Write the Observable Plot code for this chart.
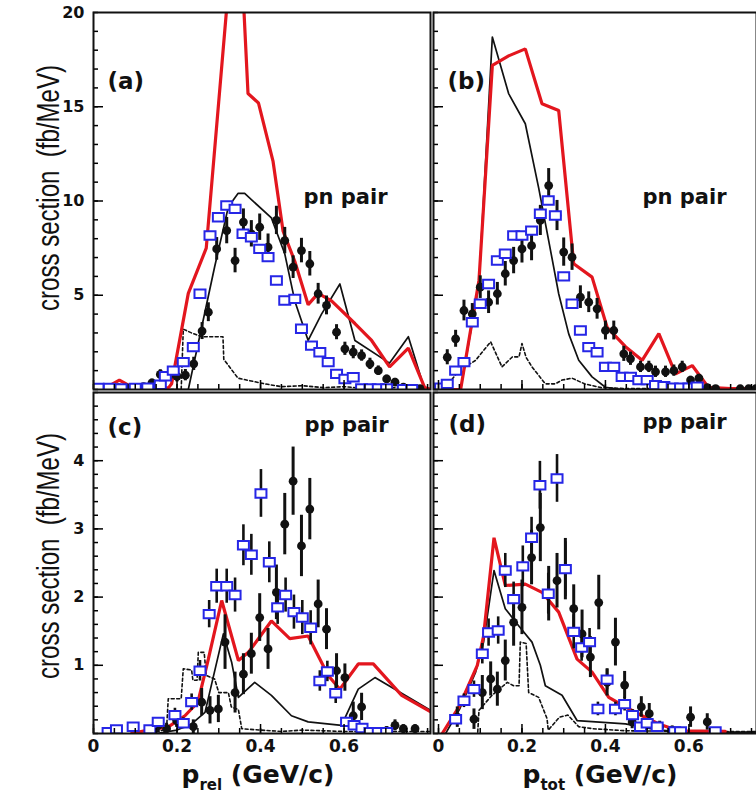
<!DOCTYPE html>
<html>
<head>
<meta charset="utf-8">
<script src="https://cdn.jsdelivr.net/npm/d3@7"></script>
<script src="https://cdn.jsdelivr.net/npm/@observablehq/plot@0.6"></script>
<style>
  body { margin: 0; background: #fff; }
  #fig { position: relative; width: 756px; height: 799px; overflow: hidden; background: #fff; }
  #fig .panel { position: absolute; }
  #fig svg { overflow: visible; }
</style>
</head>
<body>
<div id="fig"></div>
<script>
// ---------- (a) pn pair vs p_rel ----------
// measured points: [p, cross section, error]
const pnRelData = [
  [0.02,0.05,0.08],[0.04,0.1,0.1],[0.06,0.1,0.1],[0.08,0.08,0.1],[0.10,0.1,0.1],[0.12,0.15,0.15],
  [0.14,0.35,0.2],[0.16,0.8,0.25],[0.18,0.7,0.25],[0.20,0.7,0.3],[0.22,0.76,0.3],[0.24,1.36,0.35],
  [0.26,3.1,0.45],[0.275,4.1,0.5],[0.295,7.46,0.6],[0.319,8.43,0.7],[0.339,6.84,0.65],[0.359,8.88,0.7],
  [0.378,8.26,0.7],[0.398,8.61,0.7],[0.418,7.55,0.7],[0.438,8.97,0.75],[0.458,7.9,0.7],[0.478,6.49,0.6],
  [0.498,7.37,0.65],[0.518,6.67,0.65],[0.538,5.08,0.55],[0.558,4.46,0.5],[0.582,3.04,0.4],[0.602,2.16,0.35],
  [0.622,1.98,0.35],[0.642,1.8,0.3],[0.662,1.36,0.3],[0.682,1.0,0.25],[0.702,0.56,0.2],[0.722,0.39,0.2],
  [0.742,0.12,0.12],[0.762,0.05,0.08],[0.782,0.05,0.08]
];
// simulated events (open squares): [p, cross section, error]
const pnRelSim = [
  [0.011,0.08,0],[0.038,0.08,0],[0.066,0.05,0],[0.10,0.08,0],[0.13,0.1,0],[0.16,0.25,0],[0.172,0.7,0],
  [0.191,1.0,0],[0.215,1.45,0],[0.239,2.25,0],[0.255,5.08,0],[0.279,8.17,0],[0.299,9.14,0],[0.319,9.76,0],
  [0.339,9.58,0],[0.358,8.26,0],[0.378,8.08,0],[0.398,7.46,0],[0.418,7.02,0],[0.438,5.78,0],[0.458,4.72,0],
  [0.482,4.81,0],[0.498,3.22,0],[0.522,2.33,0],[0.542,1.98,0],[0.562,1.45,0],[0.582,0.83,0],[0.602,0.56,0],
  [0.622,0.65,0],[0.642,0.05,0],[0.662,0.05,0],[0.682,0.05,0],[0.702,0.05,0],[0.742,0.02,0],[0.762,0.02,0]
];
// model curves: [p, cross section]
const pnRelRed = [
  [0,0],[0.03,0.1],[0.062,0.5],[0.09,0.15],[0.12,0.1],[0.15,0.05],[0.18,0.1],[0.187,0.3],[0.227,5.1],
  [0.27,7.5],[0.345,27],[0.37,15.7],[0.395,15.2],[0.43,12.1],[0.454,8.4],[0.482,6.8],[0.514,4.5],
  [0.538,5.1],[0.57,4.7],[0.626,3.5],[0.666,2.6],[0.709,1.2],[0.754,2.2],[0.793,0.1],[0.81,0]
];
const pnRelBlack = [
  [0,0],[0.227,0],[0.29,6.5],[0.323,9.7],[0.346,10.4],[0.362,10.4],[0.426,9.1],[0.458,7.2],[0.482,4.7],
  [0.514,2.6],[0.546,4.0],[0.59,5.6],[0.626,2.6],[0.709,1.4],[0.754,2.8],[0.793,0],[0.81,0]
];
const pnRelDotted = [
  [0,0],[0.21,0],[0.215,3.2],[0.235,3.0],[0.259,2.8],[0.31,2.8],[0.312,1.6],[0.346,0.6],[0.41,0.3],
  [0.45,0.15],[0.5,0.2],[0.55,0.1],[0.6,0.15],[0.65,0.05],[0.7,0.1],[0.81,0.05]
];

// ---------- (b) pn pair vs p_tot ----------
const pnTotData = [
  [0.021,1.71,0.4],[0.041,2.69,0.45],[0.061,4.19,0.55],[0.081,4.01,0.55],[0.1,5.43,0.6],[0.12,4.63,0.6],
  [0.141,5.08,0.6],[0.16,6.14,0.65],[0.18,6.84,0.7],[0.2,7.46,0.75],[0.223,7.63,0.8],[0.244,8.97,0.8],
  [0.264,10.82,0.9],[0.284,9.23,0.8],[0.3,7.29,0.75],[0.32,7.02,0.7],[0.34,4.9,0.6],[0.36,4.63,0.55],
  [0.38,4.28,0.55],[0.4,3.13,0.5],[0.42,3.13,0.5],[0.444,1.89,0.4],[0.46,1.63,0.35],[0.484,1.2,0.3],
  [0.504,1.2,0.3],[0.52,0.94,0.3],[0.544,0.94,0.3],[0.564,1.0,0.3],[0.584,1.2,0.3],[0.604,0.5,0.2],
  [0.624,0.6,0.2],[0.644,0.1,0.1],[0.664,0.05,0.1],[0.723,0.04,0.08],[0.743,0.04,0.08],[0.76,0.04,0.08]
];
const pnTotSim = [
  [0.005,0.1,0],[0.021,0.3,0],[0.041,1.0,0],[0.061,1.45,0],[0.081,3.57,0],[0.1,4.55,0],[0.12,5.6,0],
  [0.141,6.84,0],[0.16,7.2,0],[0.18,8.17,0],[0.2,8.17,0],[0.223,8.43,0],[0.244,9.32,0],[0.263,10.03,0],
  [0.28,9.23,0],[0.3,6.0,0],[0.32,4.55,0],[0.34,3.13,0],[0.36,2.25,0],[0.38,1.98,0],[0.4,1.2,0],
  [0.42,1.2,0],[0.44,0.67,0],[0.46,0.67,0],[0.48,0.5,0],[0.5,0.5,0],[0.52,0.23,0],[0.54,0.18,0],
  [0.56,0.1,0],[0.58,0.1,0],[0.6,0.1,0],[0.62,0.15,0]
];
const pnTotRed = [
  [-0.012,0],[0.053,0],[0.097,5.8],[0.129,17.2],[0.168,17.7],[0.208,18.07],[0.248,15.16],[0.288,14.8],
  [0.324,6.67],[0.368,5.96],[0.404,3.3],[0.448,2.27],[0.488,1.55],[0.528,2.96],[0.568,0.83],[0.608,1.27],
  [0.647,0.11],[0.7,0.05],[0.77,0.05]
];
const pnTotBlack = [
  [-0.012,0],[0.053,0],[0.097,5.6],[0.129,18.7],[0.168,15.7],[0.208,14.1],[0.24,10.7],[0.264,7.9],
  [0.288,5.08],[0.312,2.95],[0.336,1.55],[0.368,0.67],[0.4,0.12],[0.44,0],[0.77,0]
];
const pnTotDotted = [
  [-0.012,0],[0.02,0.2],[0.049,1.0],[0.089,1.55],[0.125,2.53],[0.152,1.2],[0.177,1.73],[0.193,1.73],
  [0.2,2.44],[0.21,1.7],[0.224,1.2],[0.256,0.3],[0.28,0.3],[0.296,0.5],[0.32,0.6],[0.35,0.3],[0.39,0.1],
  [0.45,0.05],[0.77,0.03]
];

// ---------- (c) pp pair vs p_rel ----------
const ppRelData = [
  [0.155,0.12,0.1],[0.175,0.07,0.08],[0.199,0.19,0.1],[0.239,0.1,0.1],[0.259,0.46,0.2],[0.279,0.34,0.2],
  [0.299,0.36,0.2],[0.315,1.34,0.4],[0.339,0.6,0.3],[0.359,0.87,0.3],[0.378,1.17,0.3],[0.398,1.7,0.35],
  [0.418,1.24,0.3],[0.438,2.07,0.4],[0.458,3.07,0.45],[0.478,3.7,0.5],[0.498,2.75,0.45],[0.518,3.29,0.45],
  [0.538,1.9,0.35],[0.558,1.53,0.3],[0.582,0.92,0.25],[0.602,0.82,0.2],[0.622,0.26,0.2],[0.642,0.39,0.2],
  [0.662,0.02,0.05],[0.682,0.02,0.05],[0.702,0.04,0.06],[0.722,0.12,0.08],[0.742,0.07,0.06],[0.77,0.07,0.06]
];
const ppRelSim = [
  [0.035,0.02,0],[0.055,0.06,0],[0.095,0.1,0],[0.135,0.06,0],[0.155,0.17,0.06],[0.195,0.27,0.1],
  [0.215,0.15,0.08],[0.235,0.46,0.12],[0.255,0.92,0.15],[0.277,1.75,0.2],[0.295,2.16,0.25],[0.319,2.16,0.25],
  [0.339,2.03,0.25],[0.359,2.76,0.3],[0.378,2.62,0.3],[0.401,3.52,0.35],[0.421,2.51,0.3],[0.441,1.85,0.25],
  [0.46,2.03,0.25],[0.48,1.78,0.25],[0.5,1.7,0.25],[0.52,1.55,0.25],[0.542,0.77,0.15],[0.56,0.91,0.15],
  [0.58,0.59,0.15],[0.606,0.17,0.06],[0.624,0.12,0.05],[0.643,0.08,0.05],[0.662,0.02,0],[0.682,0.02,0],
  [0.702,0.02,0]
];
const ppRelRed = [
  [0.091,0],[0.131,0.05],[0.18,0.1],[0.219,0.26],[0.25,0.46],[0.275,1.09],[0.307,1.95],[0.347,1.07],
  [0.371,1.19],[0.426,1.65],[0.47,1.39],[0.514,1.43],[0.562,0.85],[0.59,0.65],[0.634,1.02],[0.67,1.02],
  [0.738,0.56],[0.81,0.31]
];
const ppRelBlack = [
  [0.15,0],[0.2,0.05],[0.235,0.14],[0.267,0.31],[0.311,1.46],[0.331,1.04],[0.347,0.53],[0.386,0.75],
  [0.426,0.56],[0.474,0.26],[0.514,0.17],[0.594,0.12],[0.634,0.65],[0.674,0.82],[0.746,0.56],[0.81,0.33]
];
const ppRelDotted = [
  [0.15,0.02],[0.175,0.07],[0.179,0.51],[0.21,0.51],[0.215,0.95],[0.235,0.93],[0.238,0.78],[0.248,0.78],
  [0.251,1.19],[0.265,1.19],[0.27,0.85],[0.29,0.8],[0.3,0.6],[0.323,0.6],[0.33,0.39],[0.347,0.35],
  [0.355,0.07],[0.4,0.05],[0.45,0.03],[0.5,0.05],[0.6,0.03],[0.7,0.03],[0.81,0.03]
];

// ---------- (d) pp pair vs p_tot ----------
const ppTotData = [
  [0.045,0.24,0.15],[0.085,0.21,0.15],[0.105,0.6,0.25],[0.125,0.8,0.25],[0.141,0.65,0.25],[0.16,1.07,0.3],
  [0.18,1.63,0.35],[0.2,1.85,0.4],[0.223,2.58,0.4],[0.244,3.02,0.5],[0.264,2.05,0.4],[0.284,2.24,0.4],
  [0.304,2.41,0.45],[0.324,1.83,0.35],[0.344,1.46,0.35],[0.364,1.12,0.3],[0.384,1.92,0.4],[0.404,0.75,0.2],
  [0.424,1.34,0.35],[0.446,0.71,0.2],[0.464,0.17,0.1],[0.486,0.39,0.15],[0.505,0.29,0.15],[0.53,0.1,0.08],
  [0.56,0.05,0.06],[0.604,0.24,0.15],[0.644,0.17,0.12]
];
const ppTotSim = [
  [0.041,0.21,0],[0.061,0.48,0.1],[0.085,0.65,0.12],[0.105,1.17,0.15],[0.12,1.48,0.2],[0.143,1.51,0.2],
  [0.16,2.39,0.25],[0.18,1.97,0.25],[0.202,2.45,0.3],[0.223,2.87,0.3],[0.243,3.64,0.35],[0.263,2.05,0.3],
  [0.284,3.74,0.35],[0.304,2.41,0.4],[0.324,1.49,0.25],[0.343,1.26,0.2],[0.362,1.34,0.2],[0.382,0.36,0.1],
  [0.404,0.79,0.15],[0.424,0.36,0.1],[0.446,0.43,0.1],[0.465,0.27,0.08],[0.484,0.1,0.05],[0.5,0.15,0.06],
  [0.524,0.1,0],[0.566,0.03,0],[0.58,0.03,0],[0.663,0.03,0]
];
const ppTotRed = [
  [0.009,0],[0.049,0.39],[0.093,1.0],[0.108,1.43],[0.133,2.87],[0.16,2.17],[0.208,2.19],[0.248,2.07],
  [0.288,1.78],[0.332,1.09],[0.368,0.9],[0.408,0.53],[0.448,0.39],[0.488,0.26],[0.528,0.14],[0.575,0.04],
  [0.687,0.03]
];
const ppTotBlack = [
  [0.017,0],[0.05,0.35],[0.089,0.9],[0.108,1.34],[0.133,2.39],[0.16,1.83],[0.192,1.58],[0.224,1.34],
  [0.244,1.0],[0.256,0.7],[0.296,0.56],[0.332,0.19],[0.448,0.14],[0.528,0.05],[0.6,0.02],[0.77,0.02]
];
const ppTotDotted = [
  [0.094,0.02],[0.097,0.34],[0.128,0.56],[0.165,0.75],[0.18,0.7],[0.193,0.7],[0.196,1.34],[0.21,1.32],
  [0.216,0.6],[0.24,0.53],[0.26,0.22],[0.263,0.05],[0.29,0.24],[0.31,0.27],[0.336,0.1],[0.37,0.07],
  [0.45,0.04],[0.6,0.03],[0.77,0.03]
];

// ---------- axis ticks ----------
const topMajorTicks = [5, 10, 15];
const topLabelTicks = [5, 10, 15, 20];
const bottomMajorTicks = [1, 2, 3, 4];
const bottomLabelTicks = [1, 2, 3, 4];
const momentumLabelTicks = [0, 0.2, 0.4, 0.6];

const RED = "#e3161e", BLUE = "#2626e6", INK = "#111";
const BOLD = "DejaVu Sans";

// open rectangle marker for simulated events
const openBox = {
  draw(context) {
    context.rect(-5.5, -4.2, 11, 8.4);
  }
};

const fx = d => d[0], fy = d => d[1];

function range(a, b, s) {
  const out = [];
  for (let v = a; v <= b + 1e-9; v += s) out.push(+v.toFixed(4));
  return out;
}

function panel(o) {
  const marks = [
    Plot.line(o.dotted, {x: fx, y: fy, stroke: INK, strokeWidth: 1.6, strokeDasharray: "3,2.5", clip: true}),
    Plot.line(o.black, {x: fx, y: fy, stroke: INK, strokeWidth: 1.7, clip: true}),
    Plot.line(o.red, {x: fx, y: fy, stroke: RED, strokeWidth: 3.2, strokeLinejoin: "miter", clip: true}),
    Plot.ruleX(o.data, {x: fx, y1: d => d[1] - d[2], y2: d => d[1] + d[2], stroke: INK, strokeWidth: 3, clip: true}),
    Plot.ruleX(o.sim.filter(d => d[2] > 0), {x: fx, y1: d => d[1] - d[2], y2: d => d[1] + d[2], stroke: INK, strokeWidth: 2.6, clip: true}),
    Plot.dot(o.data, {x: fx, y: fy, r: 4.4, fill: INK, clip: true}),
    Plot.dot(o.sim, {x: fx, y: fy, symbol: openBox, stroke: BLUE, strokeWidth: 2, fill: "white", clip: true}),
    Plot.axisY(o.yMinor, {tickSize: -5, tickFormat: () => "", label: null, strokeWidth: 1.5}),
    Plot.axisY(o.yMajor, {tickSize: -10, tickFormat: () => "", label: null, strokeWidth: 1.5}),
    Plot.axisX(o.xMinor, {tickSize: -5, tickFormat: () => "", label: null, strokeWidth: 1.5}),
    Plot.axisX(momentumLabelTicks, {tickSize: -9, tickFormat: () => "", label: null, strokeWidth: 1.5}),
    Plot.frame({stroke: INK, strokeWidth: 2}),
    Plot.text([o.tag], {frameAnchor: "top-left", dx: o.tagDx, dy: o.tagDy, fontSize: 23, fontWeight: "bold", fontFamily: BOLD, fill: INK}),
    Plot.text([o.pair], {frameAnchor: "top-left", dx: o.pairDx, dy: o.pairDy, fontSize: 21, fontWeight: "bold", fontFamily: BOLD, fill: INK})
  ];
  if (o.yLabels) marks.push(Plot.axisY(o.yLabels, {tickSize: 0, tickPadding: 9, label: null, fontSize: 16, fontWeight: "bold", fontFamily: BOLD, fill: INK, tickFormat: d => String(d)}));
  if (o.xLabels) marks.push(Plot.axisX(o.xLabels, {tickSize: 0, tickPadding: 6, label: null, fontSize: 17, fontWeight: "bold", fontFamily: BOLD, fill: INK, tickFormat: d => d === 0 ? "0" : d.toFixed(1)}));

  const svg = Plot.plot({
    width: o.width, height: o.height,
    marginLeft: o.mL, marginRight: 0, marginTop: o.mT, marginBottom: o.mB,
    x: {domain: o.xDomain},
    y: {domain: o.yDomain},
    style: {background: "transparent", overflow: "visible"},
    marks
  });
  const holder = document.createElement("div");
  holder.className = "panel";
  holder.style.left = o.left + "px";
  holder.style.top = o.top + "px";
  holder.style.width = o.width + "px";
  holder.appendChild(svg);
  document.getElementById("fig").appendChild(holder);
}

const topMinor = range(0, 20, 1);
const bottomMinor = range(0, 5, 0.2);
const relMinor = range(0, 0.8, 0.05);
const totMinor = range(0, 0.75, 0.05);

panel({left: 0, top: 0, width: 430, height: 392, mL: 93, mT: 12, mB: 3,
  xDomain: [0, 0.807], yDomain: [0, 20], yMinor: topMinor, yMajor: topMajorTicks, xMinor: relMinor,
  yLabels: topLabelTicks, data: pnRelData, sim: pnRelSim, red: pnRelRed, black: pnRelBlack, dotted: pnRelDotted,
  tag: "(a)", tagDx: 14, tagDy: 60, pair: "pn pair", pairDx: 210, pairDy: 177});

panel({left: 433, top: 0, width: 323, height: 392, mL: 0, mT: 12, mB: 3,
  xDomain: [-0.012, 0.762], yDomain: [0, 20], yMinor: topMinor, yMajor: topMajorTicks, xMinor: totMinor,
  data: pnTotData, sim: pnTotSim, red: pnTotRed, black: pnTotBlack, dotted: pnTotDotted,
  tag: "(b)", tagDx: 14, tagDy: 60, pair: "pn pair", pairDx: 209, pairDy: 177});

panel({left: 0, top: 392, width: 430, height: 407, mL: 93, mT: 0, mB: 66,
  xDomain: [0, 0.807], yDomain: [0, 5], yMinor: bottomMinor, yMajor: bottomMajorTicks, xMinor: relMinor,
  yLabels: bottomLabelTicks, xLabels: momentumLabelTicks,
  data: ppRelData, sim: ppRelSim, red: ppRelRed, black: ppRelBlack, dotted: ppRelDotted,
  tag: "(c)", tagDx: 14, tagDy: 26, pair: "pp pair", pairDx: 211, pairDy: 25});

panel({left: 433, top: 392, width: 323, height: 407, mL: 0, mT: 0, mB: 66,
  xDomain: [-0.012, 0.762], yDomain: [0, 5], yMinor: bottomMinor, yMajor: bottomMajorTicks, xMinor: totMinor,
  xLabels: momentumLabelTicks,
  data: ppTotData, sim: ppTotSim, red: ppTotRed, black: ppTotBlack, dotted: ppTotDotted,
  tag: "(d)", tagDx: 15, tagDy: 23, pair: "pp pair", pairDx: 209, pairDy: 22});

// axis titles
const titles = d3.create("svg")
  .attr("width", 756).attr("height", 799)
  .style("position", "absolute").style("left", "0px").style("top", "0px")
  .style("pointer-events", "none");

function yTitle(cy) {
  titles.append("text")
    .attr("transform", `translate(59,${cy}) rotate(-90) scale(0.86,1.12)`)
    .attr("text-anchor", "middle")
    .attr("font-family", "Liberation Sans, Arial, sans-serif")
    .attr("font-size", 28)
    .attr("fill", INK)
    .style("white-space", "pre")
    .text("cross section  (fb/MeV)");
}
yTitle(188);
yTitle(556);

function xTitle(cx, sub) {
  const t = titles.append("text")
    .attr("x", cx).attr("y", 783)
    .attr("text-anchor", "middle")
    .attr("font-family", BOLD).attr("font-weight", "bold")
    .attr("font-size", 25).attr("fill", INK)
    .style("white-space", "pre");
  t.append("tspan").text("p");
  t.append("tspan").attr("font-size", 15).attr("dy", 7).text(sub);
  t.append("tspan").attr("dy", -7).text(" (GeV/c)");
}
xTitle(258, "rel");
xTitle(600, "tot");

document.getElementById("fig").appendChild(titles.node());
</script>
</body>
</html>
